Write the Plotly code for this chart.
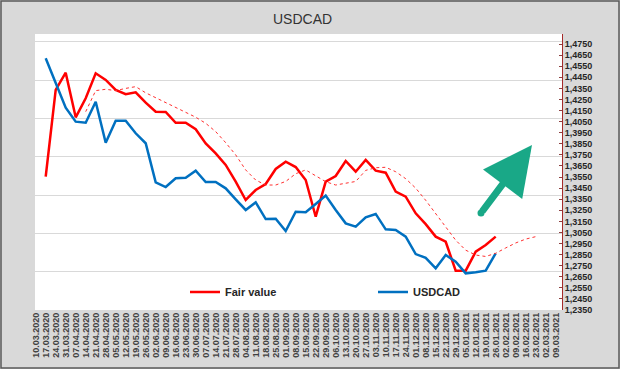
import plotly.graph_objects as go

# Category labels (weekly dates)
dates = [
    "10.03.2020", "17.03.2020", "24.03.2020", "31.03.2020", "07.04.2020", "14.04.2020",
    "21.04.2020", "28.04.2020", "05.05.2020", "12.05.2020", "19.05.2020", "26.05.2020",
    "02.06.2020", "09.06.2020", "16.06.2020", "23.06.2020", "30.06.2020", "07.07.2020",
    "14.07.2020", "21.07.2020", "28.07.2020", "04.08.2020", "11.08.2020", "18.08.2020",
    "25.08.2020", "01.09.2020", "08.09.2020", "15.09.2020", "22.09.2020", "29.09.2020",
    "06.10.2020", "13.10.2020", "20.10.2020", "27.10.2020", "03.11.2020", "10.11.2020",
    "17.11.2020", "24.11.2020", "01.12.2020", "08.12.2020", "15.12.2020", "22.12.2020",
    "29.12.2020", "05.01.2021", "12.01.2021", "19.01.2021", "26.01.2021", "02.02.2021",
    "09.02.2021", "16.02.2021", "23.02.2021", "02.03.2021", "09.03.2021",
]

# Fair value (17.03.2020 .. 26.01.2021)
fair_value = [
    1.3553, 1.4336, 1.4492, 1.4089, 1.4261, 1.4486, 1.4426, 1.4336, 1.4297, 1.4315,
    1.4221, 1.4140, 1.4137, 1.4040, 1.4040, 1.3981, 1.3854, 1.3764, 1.3659, 1.3508,
    1.3343, 1.3433, 1.3487, 1.3623, 1.3688, 1.3640, 1.3523, 1.3192, 1.3508, 1.3559,
    1.3695, 1.3598, 1.3704, 1.3607, 1.3589, 1.3418, 1.3373, 1.3223, 1.3125, 1.3012,
    1.2966, 1.2705, 1.2705, 1.2876, 1.2937, 1.3012,
]

# USDCAD spot (17.03.2020 .. 26.01.2021)
usdcad = [
    1.4622, 1.4401, 1.4176, 1.4050, 1.4040, 1.4230, 1.3860, 1.4058, 1.4058, 1.3945,
    1.3855, 1.3502, 1.3460, 1.3539, 1.3544, 1.3607, 1.3505, 1.3505, 1.3448, 1.3349,
    1.3253, 1.3322, 1.3171, 1.3174, 1.3063, 1.3237, 1.3232, 1.3307, 1.3382, 1.3253,
    1.3132, 1.3102, 1.3187, 1.3217, 1.3078, 1.3072, 1.3012, 1.2855, 1.2820, 1.2726,
    1.2846, 1.2786, 1.2681, 1.2690, 1.2705, 1.2862,
]

# Smoothed fair value (dotted, 14.04.2020 .. 23.02.2021)
fair_trend = [
    1.4140, 1.4330, 1.4342, 1.4330, 1.4350, 1.4366, 1.4310, 1.4266, 1.4221, 1.4180,
    1.4140, 1.4090, 1.4035, 1.3960, 1.3860, 1.3750, 1.3614, 1.3523, 1.3478, 1.3478,
    1.3510, 1.3580, 1.3614, 1.3560, 1.3508, 1.3478, 1.3493, 1.3510, 1.3610, 1.3634,
    1.3638, 1.3598, 1.3535, 1.3450, 1.3340, 1.3220, 1.3100, 1.2980, 1.2890, 1.2846,
    1.2833, 1.2862, 1.2910, 1.2955, 1.2990, 1.3012,
]

y_ticks = [round(1.2350 + 0.01 * k, 4) for k in range(25)]
y_ticktext = [f"{v:.4f}".replace(".", ",") for v in y_ticks]

FONT = "Liberation Sans"
ARROW = "#19A887"

fig = go.Figure()
fig.add_trace(go.Scatter(
    x=dates[1:1 + len(fair_value)], y=fair_value, name="Fair value", mode="lines",
    line=dict(color="#FF0000", width=2.5), yaxis="y"))
fig.add_trace(go.Scatter(
    x=dates[1:1 + len(usdcad)], y=usdcad, name="USDCAD", mode="lines",
    line=dict(color="#0070C0", width=2.5), yaxis="y"))
fig.add_trace(go.Scatter(
    x=dates[5:5 + len(fair_trend)], y=fair_trend, name="trend", mode="lines",
    showlegend=False, line=dict(color="#FF3030", width=1, dash="dot"), yaxis="y"))
# invisible helper trace so the grid axis is rendered
fig.add_trace(go.Scatter(x=[dates[0]], y=[0], mode="markers", marker=dict(opacity=0),
                         showlegend=False, hoverinfo="skip", yaxis="y2"))

L, R, T, B = 35, 58, 34, 59
W, H = 620, 369
pw, ph = W - L - R, H - T - B

def px_x(p):
    return (p - L) / pw

def px_y(p):
    return (H - B - p) / ph

tail_x, tail_y, tip_x, tip_y = 481, 213, 532, 145

fig.update_layout(
    width=W, height=H,
    margin=dict(l=L, r=R, t=T, b=B, pad=0),
    paper_bgcolor="#d9d9d9",
    plot_bgcolor="#ffffff",
    font=dict(family=FONT, color="#262626"),
    xaxis=dict(
        type="category", categoryorder="array", categoryarray=dates,
        range=[-0.07, 52.63], tickmode="array", tickvals=dates, ticktext=dates,
        tickangle=-90, tickfont=dict(family=FONT, size=9, color="#404040", weight="bold"),
        showgrid=False, zeroline=False, showline=False, ticks="",
    ),
    yaxis=dict(
        side="right", range=[1.2350, 1.2350 + ph / 1108.0],
        tickmode="array", tickvals=y_ticks, ticktext=y_ticktext,
        tickfont=dict(family=FONT, size=9, color="#262626", weight="bold"),
        showgrid=False, zeroline=False, showline=True, linecolor="#A52A2A", linewidth=1,
        ticks="inside", ticklen=3, tickcolor="#8B4040",
    ),
    yaxis2=dict(
        overlaying="y", side="left", range=[0, ph / 38.33], tick0=0, dtick=1,
        showgrid=True, gridcolor="#d9d9d9", gridwidth=1.3, showticklabels=False,
        ticks="", zeroline=False, showline=False,
    ),
    showlegend=True,
    legend=dict(
        orientation="h", x=px_x(185), xanchor="left", y=px_y(292), yanchor="middle",
        bgcolor="rgba(0,0,0,0)", entrywidth=143, entrywidthmode="pixels",
        font=dict(family=FONT, size=11, color="#262626", weight="bold"),
        itemwidth=30,
    ),
    annotations=[
        dict(text="USDCAD", xref="paper", yref="paper", x=px_x(302), y=px_y(19),
             xanchor="center", yanchor="middle", showarrow=False,
             font=dict(family=FONT, size=14, color="#333333")),
        dict(text="", xref="paper", yref="paper", x=px_x(tip_x), y=px_y(tip_y),
             ax=tail_x - tip_x, ay=tail_y - tip_y, showarrow=True, arrowhead=2,
             arrowsize=1.4, arrowwidth=7, arrowcolor=ARROW),
    ],
    shapes=[
        dict(type="circle", xref="paper", yref="paper",
             x0=px_x(tail_x - 3.5), x1=px_x(tail_x + 3.5),
             y0=px_y(tail_y + 3.5), y1=px_y(tail_y - 3.5),
             line=dict(width=0), fillcolor=ARROW, layer="above"),
        dict(type="rect", xref="paper", yref="paper",
             x0=px_x(1), x1=px_x(619), y0=px_y(368), y1=px_y(1),
             line=dict(color="#595959", width=1.5), fillcolor="rgba(0,0,0,0)", layer="above"),
    ],
)

fig.write_html(
    "out.html",
    config={"displayModeBar": False},
    post_script="document.body.style.margin='0';document.body.style.padding='0';",
)
